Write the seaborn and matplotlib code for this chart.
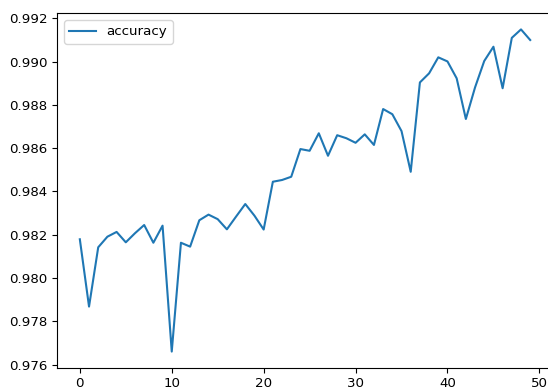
import matplotlib
matplotlib.use("Agg")
import matplotlib.pyplot as plt
import seaborn as sns
import pandas as pd

# Per-epoch training accuracy
epochs = list(range(50))
accuracy = [
    0.98179, 0.97868, 0.98142, 0.98191, 0.98213, 0.98165, 0.98207, 0.98245, 0.98163, 0.98242,
    0.97660, 0.98163, 0.98145, 0.98267, 0.98293, 0.98272, 0.98225, 0.98284, 0.98342, 0.98288,
    0.98224, 0.98445, 0.98453, 0.98468, 0.98596, 0.98588, 0.98669, 0.98565, 0.98660, 0.98646,
    0.98625, 0.98664, 0.98615, 0.98781, 0.98757, 0.98679, 0.98491, 0.98904, 0.98946, 0.99020,
    0.99001, 0.98923, 0.98735, 0.98881, 0.99003, 0.99069, 0.98877, 0.99110, 0.99149, 0.99100,
]

df = pd.DataFrame({"epoch": epochs, "accuracy": accuracy})

plt.rcParams["font.size"] = 9.6
fig = plt.figure(figsize=(5.48, 3.89), dpi=100)
ax = fig.add_axes([0.1046, 0.0548, 0.904, 0.911])

sns.lineplot(data=df, x="epoch", y="accuracy", ax=ax, label="accuracy",
             color="#1f77b4", linewidth=1.5)

ax.set_xlabel("")
ax.set_ylabel("")
ax.set_xticks([0, 10, 20, 30, 40, 50])
ax.set_yticks([0.976, 0.978, 0.980, 0.982, 0.984, 0.986, 0.988, 0.990, 0.992])
ax.set_yticklabels([f"{v:.3f}" for v in ax.get_yticks()])
ax.legend(loc="upper left")

fig.savefig("out.png", dpi=100)
